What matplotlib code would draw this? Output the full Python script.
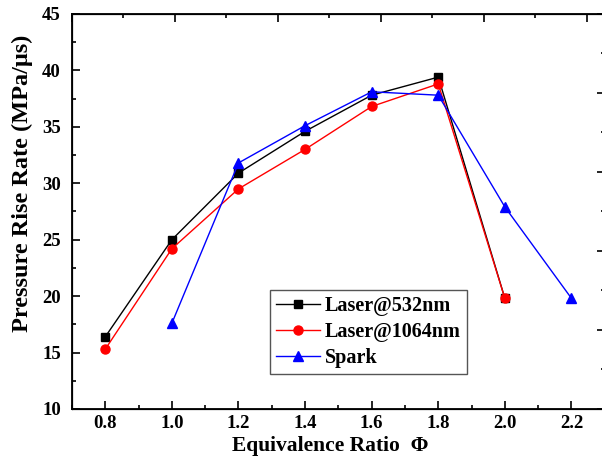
import numpy as np
import matplotlib
matplotlib.use('Agg')
import matplotlib.pyplot as plt
from matplotlib.ticker import MultipleLocator, NullFormatter

# -----------------------------------------------------------------------------

phi = [0.8, 1.0, 1.2, 1.4, 1.6, 1.8, 2.0]
laser_532 = [16.4, 25.0, 30.9, 34.6, 37.8, 39.4, 19.8]
laser_1064 = [15.3, 24.2, 29.5, 33.0, 36.8, 38.8, 19.8]

phi_spark = [1.0, 1.2, 1.4, 1.6, 1.8, 2.0, 2.2]
spark = [17.6, 31.8, 35.1, 38.1, 37.8, 27.9, 19.8]

x_ticks = [0.8, 1.0, 1.2, 1.4, 1.6, 1.8, 2.0, 2.2]
y_ticks = [10, 15, 20, 25, 30, 35, 40, 45]

# -----------------------------------------------------------------------------

plt.rcParams['font.family'] = ['Liberation Serif', 'DejaVu Serif']
plt.rcParams['font.weight'] = 'bold'

fig = plt.figure(figsize=(6.02, 4.67), dpi=100)
ax = fig.add_axes([0.1196, 0.1242, 0.885, 0.846])

ax.plot(phi, laser_532, color='black', lw=1.0, marker='s', ms=6,
        label='Laser@532nm')
ax.plot(phi, laser_1064, color='red', lw=1.0, marker='o', ms=6.5,
        label='Laser@1064nm')
ax.plot(phi_spark, spark, color='blue', lw=1.0, marker='^', ms=7.5,
        label='Spark')

ax.set_xlim(0.7, 2.3)
ax.set_ylim(10, 45)
ax.set_xticks(x_ticks)
ax.set_xticklabels(['%.1f' % v for v in x_ticks])
ax.set_yticks(y_ticks)
ax.xaxis.set_minor_locator(MultipleLocator(0.1))
ax.yaxis.set_minor_locator(MultipleLocator(2.5))

ax.tick_params(which='both', direction='in', top=False, right=False,
               width=1.2, labelsize=13.5)
ax.tick_params(axis='y', pad=8)
ax.tick_params(axis='x', pad=4.5)
ax.tick_params(which='major', length=6)
ax.tick_params(which='minor', length=3)

ax.set_xlabel('Equivalence Ratio  Φ', fontsize=15.5, fontweight='bold')
ax.set_ylabel('Pressure Rise Rate (MPa/μs)', fontsize=17.5, fontweight='bold')
ax.xaxis.set_label_coords(0.484, -0.068)
ax.yaxis.set_label_coords(-0.074, 0.572)

for s in ax.spines.values():
    s.set_linewidth(1.3)

# extra top and right axes without labels
top = ax.twiny()
top.set_xlim(0, 533 / 103)
top.xaxis.set_major_locator(MultipleLocator(1))
top.xaxis.set_minor_locator(MultipleLocator(0.5))
top.xaxis.set_major_formatter(NullFormatter())
top.tick_params(which='both', direction='in', width=1.2)
top.tick_params(which='major', length=6)
top.tick_params(which='minor', length=3)

right = ax.twinx()
right.set_ylim(0, 5)
right.yaxis.set_major_locator(MultipleLocator(1))
right.yaxis.set_minor_locator(MultipleLocator(0.5))
right.yaxis.set_major_formatter(NullFormatter())
right.tick_params(which='both', direction='in', width=1.2)
right.tick_params(which='major', length=6)
right.tick_params(which='minor', length=3)

leg = ax.legend(loc='upper left', bbox_to_anchor=(0.371, 0.301),
                borderaxespad=0, fancybox=False, framealpha=1,
                edgecolor='#555555', handlelength=2.2,
                labelspacing=0.3, borderpad=0.3, handletextpad=0.25,
                prop={'weight': 'bold', 'size': 14.5})
leg.get_frame().set_linewidth(1.0)
leg.set_zorder(10)

fig.savefig('out.png', dpi=100)
